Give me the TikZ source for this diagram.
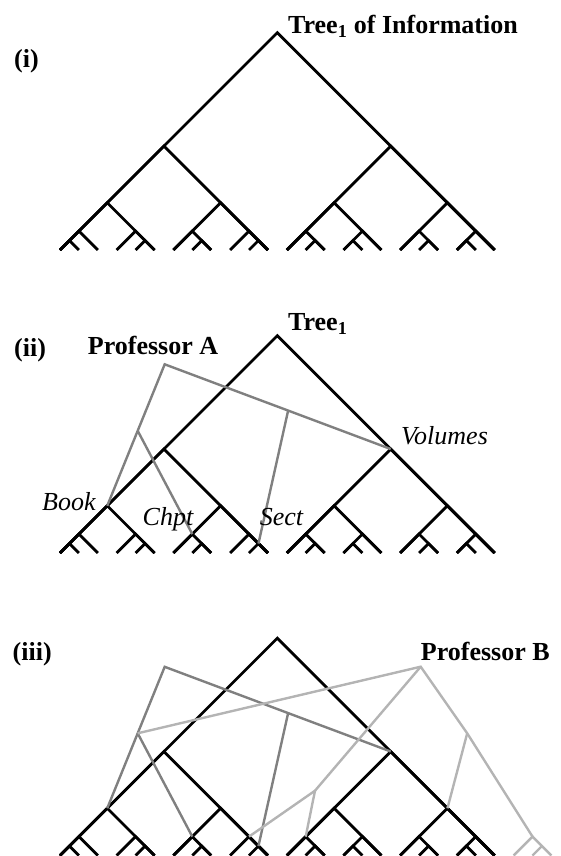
\documentclass[tikz,border=0pt]{standalone}
\usepackage{fontspec}
\setmainfont{Liberation Serif}
\usetikzlibrary{calc}
\tikzset{
  treeline/.style={line width=2.8pt, black, line join=miter},
  pa/.style={line width=2.4pt, color={rgb,255:red,128;green,128;blue,128}, line join=miter},
  pb/.style={line width=2.4pt, color={rgb,255:red,180;green,180;blue,180}, line join=miter},
  lbl/.style={inner sep=0pt, anchor=base west, font=\fontsize{26}{30}\selectfont\bfseries},
  ilbl/.style={inner sep=0pt, anchor=base west, font=\fontsize{26}{30}\selectfont\itshape},
}
\newcommand{\blacktree}[2]{%
  \foreach \i in {0,...,26} {\coordinate (#1-\i) at ({60+18.9*\i},{#2+250});}
  \foreach \a/\b in {0/23,0/11,12/23,0/5,6/11,12/17,18/23,0/2,3/5,6/8,9/11,12/14,15/17,18/20,21/23,0/1,4/5,7/8,10/11,13/14,15/16,19/20,21/22} {
    \coordinate (#1-\a-\b) at ({60+18.9*(\a+\b)/2},{#2+250-18.9*(\b-\a)/2});
    \draw[treeline] (#1-\a) -- (#1-\a-\b) -- (#1-\b);
  }
}
\newcommand{\profA}[2]{%
  \coordinate (#1-PA) at (164.7,{#2+61.3});
  \coordinate (#1-PAl) at ($(#1-PA)!0.47!(#1-0-5)$);
  \coordinate (#1-PAs) at ($(#1-PA)!0.546!(#1-12-23)$);
  \draw[pa] (#1-0-5) -- (#1-PAl) -- (#1-PA) -- (#1-12-23);
  \draw[pa] (#1-PAl) -- (#1-6-8);
  \draw[pa] (#1-PAs) -- (#1-10-11);
}
\begin{document}
\begin{tikzpicture}[x=1pt,y=-1pt]
\useasboundingbox (0,0) rectangle (561,856);
% panel (i)
\blacktree{t1}{0}
\node[lbl] (lab1) at (14,68) {(i)};
\node[lbl] (title1) at (288,33.3) {Tree\textsubscript{1} of Information};
% panel (ii)
\blacktree{t2}{303}
\profA{t2}{303}
\node[lbl] (lab2) at (14,356) {(ii)};
\node[lbl] (title2) at (288,330.7) {Tree\textsubscript{1}};
\node[lbl] (profA) at (87.7,354) {Professor A};
\node[ilbl] (vol) at (401,444) {Volumes};
\node[ilbl] (book) at (42,510) {Book};
\node[ilbl] (chpt) at (142.5,525) {Chpt};
\node[ilbl] (sect) at (259.6,525) {Sect};
% panel (iii)
\blacktree{t3}{605.5}
\profA{t3}{605.5}
\coordinate (PB) at (420.7,666.7);
\coordinate (PBx) at (315,790.7);
\coordinate (PBr) at (467.2,733.3);
\coordinate (G) at ({60+18.9*25},{605.5+250-18.9});
\coordinate (Gp) at ({60+18.9*25.5},{605.5+250-9.45});
\draw[pb] (t3-PAl) -- (PB) -- (PBr) -- (G);
\draw[pb] (PB) -- (PBx) -- (t3-9-11);
\draw[pb] (PBx) -- (t3-12-14);
\draw[pb] (PBr) -- (t3-18-23);
\draw[pb] (t3-24) -- (G) -- (t3-26);
\draw[pb] (t3-25) -- (Gp);
\node[lbl] (lab3) at (12.5,660.3) {(iii)};
\node[lbl] (profB) at (420.7,660.7) {Professor B};
\end{tikzpicture}
\end{document}
